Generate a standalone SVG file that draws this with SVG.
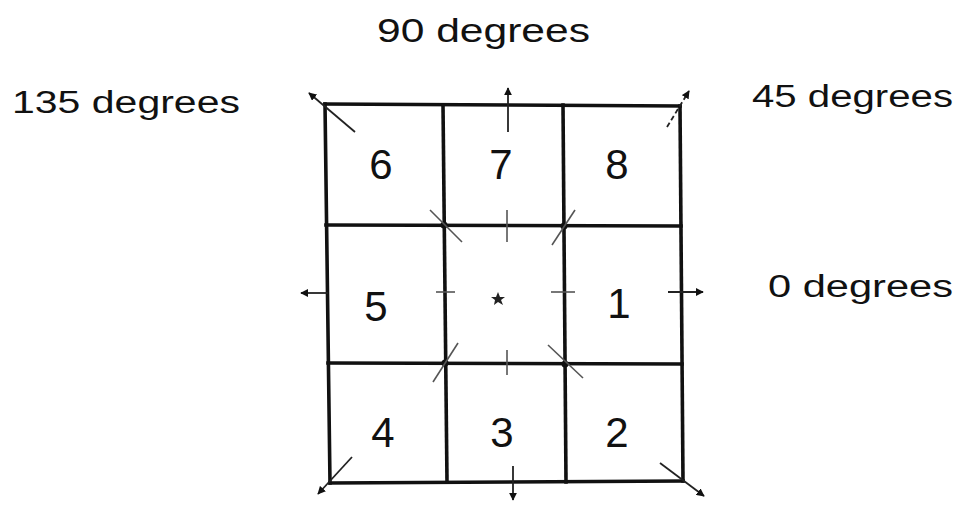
<svg xmlns="http://www.w3.org/2000/svg" width="961" height="507" viewBox="0 0 961 507">
<defs>
<marker id="ah" viewBox="0 0 10 10" refX="9" refY="5" markerWidth="4.5" markerHeight="4.5" orient="auto"><path d="M0,0 L10,5 L0,10 z" fill="#111"/></marker>
<style>
.lbl{font-family:"Liberation Sans","DejaVu Sans",sans-serif;font-size:31px;fill:#111}
.num{font-family:"Liberation Sans","DejaVu Sans",sans-serif;font-size:42px;fill:#111;text-anchor:middle}
.grid{stroke:#111;stroke-width:3.6;stroke-linecap:square;fill:none}
.arr{stroke:#222;stroke-width:1.8;fill:none}
.tick{stroke:#555;stroke-width:1.6;fill:none}
</style>
</defs>
<rect width="961" height="507" fill="#fff"/>
<g id="labels">
<text class="lbl" x="377" y="42" textLength="213" lengthAdjust="spacingAndGlyphs" style="font-size:34px">90 degrees</text>
<text class="lbl" x="12" y="113" textLength="228" lengthAdjust="spacingAndGlyphs">135 degrees</text>
<text class="lbl" x="752" y="107" textLength="201" lengthAdjust="spacingAndGlyphs">45 degrees</text>
<text class="lbl" x="768" y="297" textLength="185" lengthAdjust="spacingAndGlyphs">0 degrees</text>
</g>
<g id="grid">
<line class="grid" x1="325" y1="104" x2="680" y2="106"/>
<line class="grid" x1="326" y1="225" x2="681" y2="226"/>
<line class="grid" x1="328" y1="363" x2="682" y2="364"/>
<line class="grid" x1="330" y1="483" x2="683" y2="481"/>
<line class="grid" x1="325" y1="104" x2="330" y2="483"/>
<line class="grid" x1="443" y1="105" x2="447" y2="482"/>
<line class="grid" x1="563" y1="105" x2="566" y2="482"/>
<line class="grid" x1="680" y1="106" x2="683" y2="481"/>
<circle cx="444" cy="225" r="3.5" fill="#111"/>
<circle cx="564" cy="226" r="3.5" fill="#111"/>
<circle cx="445" cy="363" r="3.5" fill="#111"/>
<circle cx="565" cy="364" r="3.5" fill="#111"/>
</g>
<g id="cells">
<g id="c6"><text class="num" x="381" y="179">6</text></g>
<g id="c7"><text class="num" x="501" y="179">7</text></g>
<g id="c8"><text class="num" x="617" y="179">8</text></g>
<g id="c5"><text class="num" x="376" y="321">5</text></g>
<g id="c0"><path d="M498,292 L500,297 L505,297 L501,300 L503,305 L498,302 L494,305 L495,300 L491,297 L496,297 z" fill="#222"/></g>
<g id="c1"><text class="num" x="619" y="318">1</text></g>
<g id="c4"><text class="num" x="383" y="447">4</text></g>
<g id="c3"><text class="num" x="502" y="447">3</text></g>
<g id="c2"><text class="num" x="617" y="447">2</text></g>
</g>
<g id="connectors">
<line class="arr" x1="508" y1="132" x2="508" y2="88" marker-end="url(#ah)"/>
<line class="arr" x1="513" y1="466" x2="513" y2="500" marker-end="url(#ah)"/>
<line class="arr" x1="328" y1="293" x2="301" y2="293" marker-end="url(#ah)"/>
<line class="arr" x1="668" y1="292" x2="703" y2="292" marker-end="url(#ah)"/>
<line class="arr" x1="355" y1="132" x2="309" y2="93" marker-end="url(#ah)"/>
<line class="arr" x1="667" y1="127" x2="689" y2="91" marker-end="url(#ah)" stroke-dasharray="5 3"/>
<line class="arr" x1="352" y1="457" x2="318" y2="494" marker-end="url(#ah)"/>
<line class="arr" x1="660" y1="463" x2="704" y2="496" marker-end="url(#ah)"/>
<line class="tick" x1="430" y1="210" x2="462" y2="242"/>
<line class="tick" x1="575" y1="210" x2="552" y2="245"/>
<line class="tick" x1="458" y1="343" x2="433" y2="382"/>
<line class="tick" x1="548" y1="345" x2="583" y2="378"/>
<line class="tick" x1="507" y1="210" x2="507" y2="242"/>
<line class="tick" x1="507" y1="350" x2="507" y2="375"/>
<line class="tick" x1="436" y1="292" x2="455" y2="292"/>
<line class="tick" x1="551" y1="292" x2="575" y2="292"/>
</g>
</svg>
